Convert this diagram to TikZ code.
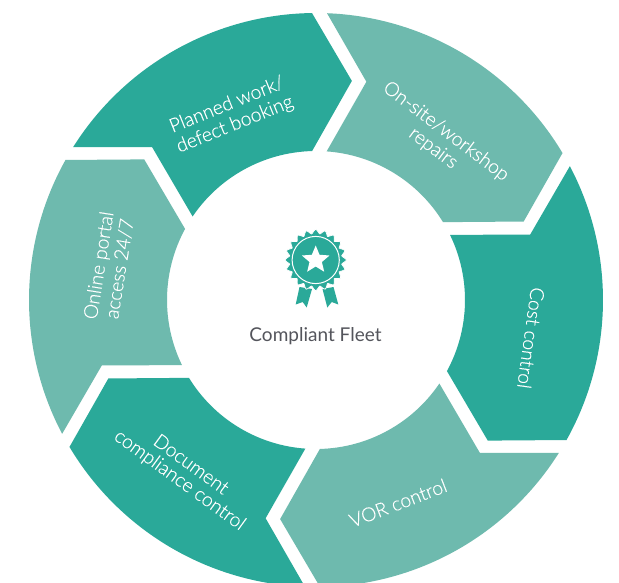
\documentclass[tikz,border=0pt]{standalone}
\usepackage{fontspec}
\setmainfont{Lato}
\newfontfamily\latolight[FakeBold=0.25]{Lato Light}
\definecolor{tealdark}{RGB}{42,169,153}
\definecolor{teallight}{RGB}{110,186,174}
\definecolor{inkgrey}{RGB}{84,85,92}
\newcommand{\segshape}{(147.8:287pt) arc[start angle=147.8,end angle=90.8,radius=287pt] -- (80.7:222pt) -- (91.5:149pt) arc[start angle=91.5,end angle=145.9,radius=149pt] -- (137:224pt) -- cycle}
\tikzset{
  seglabel/.style={text=white,align=center,font=\latolight\fontsize{19.3}{21}\selectfont,inner sep=0pt},
  centrelabel/.style={text=inkgrey,font=\fontsize{19}{20}\selectfont,inner sep=0pt}
}
\begin{document}
\begin{tikzpicture}[x=1pt,y=1pt]
\useasboundingbox (0,0) rectangle (619,-583);
\clip (0,0) rectangle (619,-583);
\fill[white] (0,0) rectangle (619,-583);
% ring segments
\foreach \n/\c in {0/tealdark,1/teallight,2/tealdark,3/teallight,4/tealdark,5/teallight}{
  \begin{scope}[shift={(316,-300)},rotate={-60*\n}]
    \fill[\c] \segshape;
  \end{scope}
}
% labels
\node[seglabel,rotate=22] (planned) at (231,-115) {Planned work/\\defect booking};
\node[seglabel,rotate=-37] (onsite) at (439.5,-140) {On-site/workshop\\repairs};
\node[seglabel,rotate=-98] (cost) at (531,-338) {Cost control};
\node[seglabel,rotate=21] (vor) at (398,-503) {VOR control};
\node[seglabel,rotate=-36] (doc) at (185,-473) {Document\\[-2pt]compliance control};
\node[seglabel,rotate=81] (portal) at (109,-267) {Online portal\\access 24/7};
\node[centrelabel] (fleet) at (315.5,-336.5) {Compliant Fleet};
% badge
\fill[tealdark] (299.5,-287) -- (295.7,-304.5) -- (302.7,-302) -- (306.7,-307.5) -- (312,-289) -- cycle;
\fill[tealdark] (322.5,-289) -- (327.3,-307.5) -- (331.7,-302) -- (338.3,-304.5) -- (333.5,-287) -- cycle;
\begin{scope}[shift={(315.7,-260)}]
  \fill[tealdark,draw=white,line width=0.7pt] plot[smooth cycle,samples at={0,4.5,...,355.5}] ({(28.5+2.2*cos(20*\x))*cos(\x)},{(28.5+2.2*cos(20*\x))*sin(\x)});
  \draw[white,line width=1pt] (0,0) circle[radius=23.6];
  \fill[white] (90:14.5pt) -- (126:6.5pt) -- (162:14.5pt) -- (198:6.5pt) -- (234:14.5pt) -- (270:6.5pt) -- (306:14.5pt) -- (342:6.5pt) -- (18:14.5pt) -- (54:6.5pt) -- cycle;
\end{scope}
\end{tikzpicture}
\end{document}
